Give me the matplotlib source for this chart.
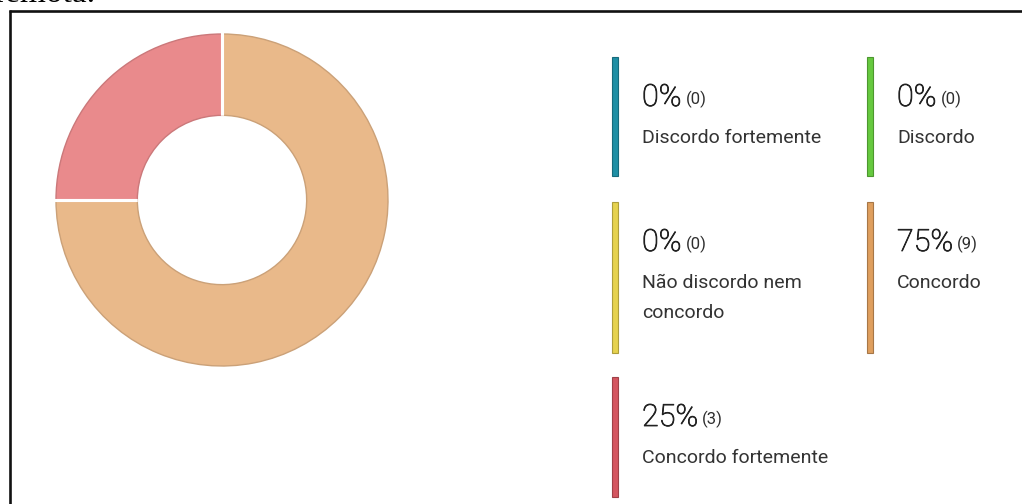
import matplotlib
matplotlib.use('Agg')
import matplotlib.pyplot as plt
import matplotlib.patheffects as pe
import numpy as np
from matplotlib.patches import Rectangle
import matplotlib.colors as mcolors

# ---- data ----
categories = ["Discordo fortemente", "Discordo", "Não discordo nem\nconcordo",
              "Concordo", "Concordo fortemente"]
counts = [0, 0, 0, 9, 3]
percents = [0, 0, 0, 75, 25]
legend_colors = ["#1f8fa5", "#66c93f", "#e6d24e", "#df9f5e", "#d45660"]
donut_colors = ["#8ccbd6", "#a9e08f", "#f1e59a", "#e9b98a", "#e98a8c"]


def darker(c, f=0.82):
    r, g, b = mcolors.to_rgb(c)
    return (r * f, g * f, b * f)


plt.rcParams['font.family'] = ['Roboto', 'DejaVu Sans']

W, H = 1022, 504
fig = plt.figure(figsize=(W / 100, H / 100), dpi=100)
fig.patch.set_facecolor('white')

# ---- donut ----
cx, cy, R = 222, 200, 166
ax = fig.add_axes([(cx - R) / W, 1 - (cy + R) / H, 2 * R / W, 2 * R / H])
nz = [i for i, c in enumerate(counts) if c > 0]
inner = 0.51
wedges, _ = ax.pie([counts[i] for i in nz], colors=[donut_colors[i] for i in nz],
                   startangle=90, counterclock=False, radius=1.0,
                   wedgeprops=dict(width=1 - inner, linewidth=1.0))
for w, i in zip(wedges, nz):
    w.set_edgecolor(darker(donut_colors[i], 0.87))
    w.set_clip_on(False)
for w in wedges:
    for th in (w.theta1, w.theta2):
        t = np.deg2rad(th)
        ax.plot([inner * np.cos(t), 1.01 * np.cos(t)],
                [inner * np.sin(t), 1.01 * np.sin(t)],
                color='white', lw=2.2, solid_capstyle='butt', clip_on=False)
ax.set_xlim(-1, 1)
ax.set_ylim(-1, 1)
ax.set_aspect('auto')
ax.axis('off')

# ---- overlay in pixel coordinates ----
ov = fig.add_axes([0, 0, 1, 1], zorder=5)
ov.set_xlim(0, W)
ov.set_ylim(H, 0)
ov.axis('off')
ov.patch.set_alpha(0)

# page frame + cut-off caption text
ov.plot([8.5, W + 5], [11, 11], color='#111111', lw=1.9, clip_on=False,
        solid_capstyle='butt')
ov.plot([9.5, 9.5], [10, H + 5], color='#111111', lw=1.9, clip_on=False,
        solid_capstyle='butt')
ov.text(-6, 2.5, "remota.", family=['Liberation Serif'], fontsize=24,
        color='black', va='baseline', ha='left')

# legend grid
col_x = [612, 867]
row_top = [57, 202, 377]
row_bar_h = [119, 151, 120]
slots = [(0, 0), (1, 0), (0, 1), (1, 1), (0, 2)]
line_gap = 30

fig.canvas.draw()
renderer = fig.canvas.get_renderer()

for i, (ci, ri) in enumerate(slots):
    bx = col_x[ci]
    top = row_top[ri]
    ov.add_patch(Rectangle((bx, top), 6, row_bar_h[ri], facecolor=legend_colors[i],
                           edgecolor=darker(legend_colors[i], 0.75), lw=0.8))
    tx = bx + 30
    by = top + 49
    big = ov.text(tx, by, f"{percents[i]}%", fontsize=22, fontweight='light',
                  color='#222222', va='baseline', ha='left',
                  path_effects=[pe.withStroke(linewidth=0.6, foreground='#222222')])
    bb = big.get_window_extent(renderer)
    x_end = ov.transData.inverted().transform((bb.x1, 0))[0] + 4
    ov.text(x_end, by - 2, f"({counts[i]})", fontsize=12, color='#2e2e2e',
            va='baseline', ha='left')
    for k, line in enumerate(categories[i].split("\n")):
        ov.text(tx, by + 37 + k * line_gap, line, fontsize=14, color='#333333',
                va='baseline', ha='left')

fig.savefig('out.png', dpi=100, facecolor='white')
